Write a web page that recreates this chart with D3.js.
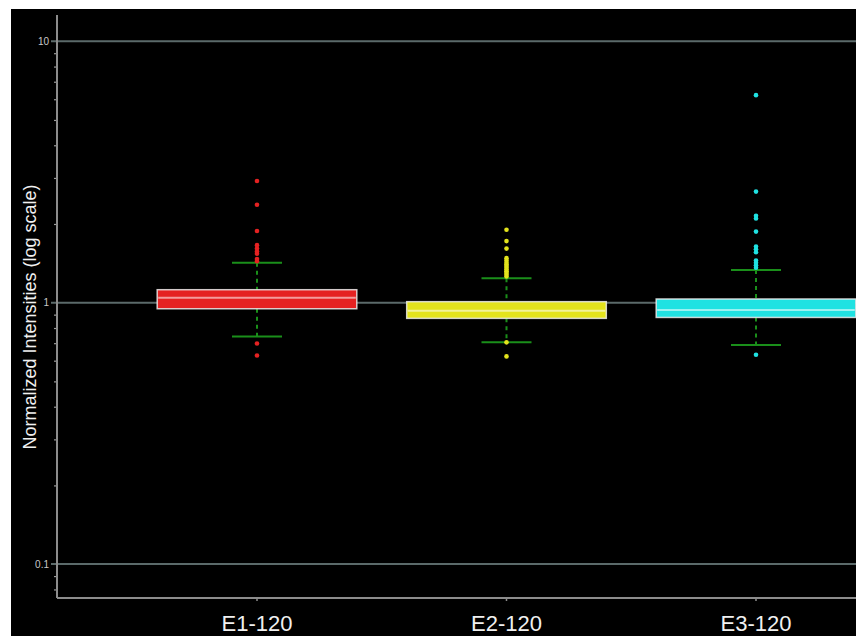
<!DOCTYPE html>
<html>
<head>
<meta charset="utf-8">
<script src="https://cdn.jsdelivr.net/npm/d3@7"></script>
<style>
  html, body { margin: 0; padding: 0; background: #ffffff; }
  svg { display: block; }
</style>
</head>
<body>
<svg id="chart" width="856" height="636"></svg>
<script>
// Sample groups and their box-plot summaries (normalized intensities)
const categories = ["E1-120", "E2-120", "E3-120"];
const colors = ["#e52222", "#e3e31c", "#1fe2e2"];
const q1 = [0.948, 0.871, 0.878];
const medians = [1.045, 0.932, 0.937];
const q3 = [1.121, 1.009, 1.033];
const whiskerLow = [0.743, 0.705, 0.689];
const whiskerHigh = [1.42, 1.239, 1.334];
const outliersE1 = [2.92, 2.37, 1.88, 1.66, 1.61, 1.57, 1.54, 1.47, 1.44, 0.698, 0.628];
const outliersE2 = [1.90, 1.72, 1.61, 1.48, 1.45, 1.42, 1.40, 1.38, 1.36, 1.34, 1.32, 1.30, 1.28, 1.26, 0.705, 0.623];
const outliersE3 = [6.22, 2.66, 2.15, 2.10, 1.87, 1.64, 1.60, 1.56, 1.45, 1.42, 1.39, 1.36, 0.632];
const outliers = [outliersE1, outliersE2, outliersE3];
const majorTicks = [0.1, 1, 10];
const tickLabels = ["0.1", "1", "10"];

const svg = d3.select("#chart");
const W = 856, H = 636;

// black plotting panel
svg.append("rect").attr("x", 11).attr("y", 9).attr("width", W - 11).attr("height", H - 9).attr("fill", "#000");

const axisX = 57, axisBottom = 598, axisTop = 15;

const y = d3.scaleLog().domain([0.0742, 12.6]).range([axisBottom, axisTop]);
const x = d3.scaleBand().domain(categories).range([132.25, 880.75]).paddingInner(0.2).paddingOuter(0.1);

const plot = svg.append("g");
plot.append("clipPath").attr("id", "clip")
  .append("rect").attr("x", axisX).attr("y", 9).attr("width", W - axisX).attr("height", axisBottom - 9);

// horizontal grid lines at each decade
plot.append("g").selectAll("line").data(majorTicks).join("line")
  .attr("x1", axisX - 6).attr("x2", W)
  .attr("y1", d => y(d)).attr("y2", d => y(d))
  .attr("stroke", "#5b6a6a").attr("stroke-width", 2);

// y axis with minor ticks
const minorTicks = [];
[0.01, 0.1, 1, 10].forEach(dec => { for (let k = 2; k <= 9; k++) { const v = dec * k; if (v > y.domain()[0] && v < y.domain()[1]) minorTicks.push(v); } });
const yAxis = d3.axisLeft(y).tickValues(minorTicks).tickSize(3).tickFormat("");
const gy = svg.append("g").attr("transform", `translate(${axisX},0)`).call(yAxis);
gy.select(".domain").remove();
gy.selectAll(".tick line").attr("stroke", "#9a9a9a").attr("stroke-width", 1.2);

svg.append("g").selectAll("text").data(majorTicks).join("text")
  .attr("x", axisX - 8).attr("y", d => y(d)).attr("dy", "0.35em")
  .attr("text-anchor", "end")
  .attr("font-family", "Liberation Sans, Arial, sans-serif").attr("font-size", 10)
  .attr("fill", "#c8c8c8")
  .text((d, i) => tickLabels[i]);

// axis lines
svg.append("line").attr("x1", axisX).attr("x2", axisX).attr("y1", axisTop).attr("y2", axisBottom)
  .attr("stroke", "#8c8c8c").attr("stroke-width", 2);
svg.append("line").attr("x1", axisX).attr("x2", W).attr("y1", axisBottom).attr("y2", axisBottom)
  .attr("stroke", "#8c8c8c").attr("stroke-width", 2);

// x axis ticks and labels
const xAxis = d3.axisBottom(x).tickSize(3).tickFormat(d => d);
const gx = svg.append("g").attr("transform", `translate(0,${axisBottom})`).call(xAxis);
gx.select(".domain").remove();
gx.selectAll(".tick line").attr("stroke", "#8c8c8c").attr("stroke-width", 1.5);
gx.selectAll(".tick text")
  .attr("y", 17).attr("dy", "0.71em")
  .attr("font-family", "Liberation Sans, Arial, sans-serif").attr("font-size", 22)
  .attr("fill", "#f0f0f0");

// y axis title
svg.append("text")
  .attr("transform", `translate(36,317) rotate(-90)`)
  .attr("text-anchor", "middle")
  .attr("font-family", "Liberation Sans, Arial, sans-serif").attr("font-size", 18)
  .attr("fill", "#f0f0f0")
  .text("Normalized Intensities (log scale)");

// boxes
const boxes = plot.append("g").attr("clip-path", "url(#clip)");
categories.forEach((cat, i) => {
  const cx = x(cat) + x.bandwidth() / 2;
  const g = boxes.append("g");
  const capHalf = 25;
  // dashed whisker stems
  g.append("line").attr("x1", cx).attr("x2", cx).attr("y1", y(whiskerHigh[i])).attr("y2", y(q3[i]))
    .attr("stroke", "#1a8f1a").attr("stroke-width", 2).attr("stroke-dasharray", "4,4");
  g.append("line").attr("x1", cx).attr("x2", cx).attr("y1", y(q1[i])).attr("y2", y(whiskerLow[i]))
    .attr("stroke", "#1a8f1a").attr("stroke-width", 2).attr("stroke-dasharray", "4,4");
  // box
  g.append("rect")
    .attr("x", x(cat)).attr("width", x.bandwidth())
    .attr("y", y(q3[i])).attr("height", y(q1[i]) - y(q3[i]))
    .attr("fill", colors[i]).attr("stroke", "rgba(235,235,235,0.85)").attr("stroke-width", 1.5);
  // median
  g.append("line").attr("x1", x(cat) + 1).attr("x2", x(cat) + x.bandwidth() - 1)
    .attr("y1", y(medians[i])).attr("y2", y(medians[i]))
    .attr("stroke", d3.interpolateRgb(colors[i], "#ffffff")(0.55)).attr("stroke-width", 2);
  // whisker caps
  [whiskerHigh[i], whiskerLow[i]].forEach(v => {
    g.append("line").attr("x1", cx - capHalf).attr("x2", cx + capHalf).attr("y1", y(v)).attr("y2", y(v))
      .attr("stroke", "#1a8f1a").attr("stroke-width", 2);
  });
  // outlier points
  g.append("g").selectAll("circle").data(outliers[i]).join("circle")
    .attr("cx", cx).attr("cy", d => y(d)).attr("r", 2.3)
    .attr("fill", colors[i]);
});
</script>
</body>
</html>
